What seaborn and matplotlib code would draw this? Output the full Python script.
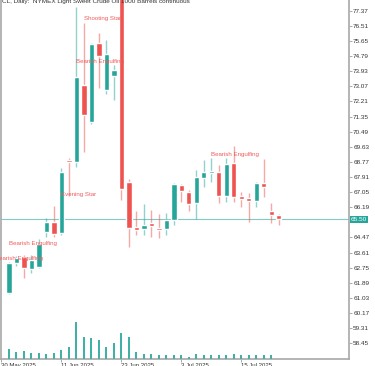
import numpy as np
import pandas as pd
import matplotlib
matplotlib.use('Agg')
import matplotlib.pyplot as plt
import seaborn as sns

sns.set_style('white')
plt.rcParams['font.family'] = ['Liberation Sans', 'DejaVu Sans']

# trading days, 30 May 2025 .. 22 Jul 2025 (first bar sits under the left edge)
days = pd.bdate_range('2025-05-30', periods=38)

opens = [61.31, 63.02, 63.36, 62.67, 62.79, 64.78, 65.35, 64.72, 68.88, 68.76,
         73.14, 71.04, 75.53, 72.86, 73.65, 78.40, 67.63, 65.07, 64.95, 65.29,
         65.01, 64.95, 65.46, 67.45, 67.06, 66.43, 67.85, 68.14, 68.19, 66.83,
         68.71, 66.83, 66.71, 66.54, 67.57, 65.98, 65.75]
highs = [63.07, 63.41, 63.47, 63.47, 64.38, 65.58, 66.26, 68.42, 68.99, 77.58,
         76.67, 75.53, 76.10, 75.70, 74.28, 78.60, 67.80, 65.98, 66.37, 66.03,
         65.80, 65.86, 67.57, 67.51, 67.17, 68.31, 68.88, 68.99, 68.59, 68.99,
         69.67, 67.06, 67.00, 67.63, 68.93, 66.43, 65.80]
lows = [61.25, 62.85, 62.16, 62.45, 62.73, 64.50, 64.50, 64.61, 66.85, 68.48,
        69.33, 70.92, 72.97, 72.63, 72.29, 66.60, 63.93, 64.61, 64.61, 64.50,
        64.44, 64.61, 65.18, 66.49, 65.98, 65.52, 67.34, 67.63, 66.43, 66.49,
        66.49, 66.20, 65.35, 66.20, 66.77, 65.29, 65.18]
closes = [63.02, 63.30, 62.73, 63.19, 64.10, 65.35, 64.67, 68.19, 68.76, 73.60,
          71.44, 75.47, 74.79, 74.91, 73.99, 67.23, 65.01, 64.89, 65.18, 65.12,
          64.89, 65.46, 67.51, 67.11, 66.37, 67.91, 68.19, 68.25, 66.83, 68.65,
          66.77, 66.66, 66.54, 67.57, 67.34, 65.75, 65.52]
volumes = [100, 73, 80, 60, 60, 57, 63, 90, 120, 370, 220, 210, 197, 120, 163,
           263, 220, 70, 50, 50, 43, 40, 43, 43, 23, 50, 40, 43, 43, 43, 50, 43,
           43, 40, 43, 43, 5]

last_price = 65.50
price_ticks = [round(77.37 - 0.86 * k, 2) for k in range(23)]
date_tick_pos = [0, 8, 16, 24, 32]

# pattern labels: (bar position, price, text)
pattern_labels = [(-0.87, 63.30, 'Bearish Engulfing'),
                  (1.0, 64.15, 'Bearish Engulfing'),
                  (8.0, 66.94, 'Evening Star'),
                  (10.0, 74.47, 'Bearish Engulfing'),
                  (11.0, 76.94, 'Shooting Star'),
                  (28.0, 69.17, 'Bearish Engulfing')]

df = pd.DataFrame({'date': days[1:], 'pos': np.arange(1, 38),
                   'open': opens, 'high': highs, 'low': lows,
                   'close': closes, 'volume': volumes})
df['up'] = df['close'] >= df['open']

GREEN = '#26a69a'
RED = '#ef5350'

fig = plt.figure(figsize=(3.75, 3.66), dpi=100)
ax = fig.add_axes([0.0015, 0.0183, 0.9292, 0.9817])

# volume histogram along the bottom (twin axes, no scale shown)
ax2 = ax.twinx()
sns.barplot(data=df, x='pos', y='volume', native_scale=True, color='#3fb1a5',
            saturation=1, width=0.27, errorbar=None, linewidth=0, ax=ax2)
ax2.set_ylim(0, 3593)
ax2.set_yticks([])
ax2.set_xlabel('')
ax2.set_ylabel('')
for s in ax2.spines.values():
    s.set_visible(False)

ax.axhline(last_price, color='#80cbc4', lw=0.8, zorder=0.5)

for up, col in [(True, GREEN), (False, RED)]:
    d = df[df['up'] == up]
    ax.vlines(d['pos'], d['low'], d['high'], color=col, lw=1.0, alpha=0.5, zorder=2)
    ax.bar(d['pos'], (d['close'] - d['open']).abs().clip(lower=0.08),
           bottom=d[['open', 'close']].min(axis=1), width=0.72,
           color=col, zorder=3)

for x, y, txt in pattern_labels:
    ax.text(x, y, txt, fontsize=4.4, color='#f05a5a', ha='left', va='center',
            zorder=5)

ax.set_xlim(-0.107, 46.37)
ax.set_ylim(57.54, 77.977)

# the tick under the current-price box keeps its mark but not its label
ax.yaxis.tick_right()
ax.set_yticks(price_ticks)
ax.set_yticklabels(['' if abs(v - last_price) < 0.3 else f'{v:.2f}'
                    for v in price_ticks])
ax.tick_params(axis='y', right=True, left=False, labelright=True, labelleft=False,
               length=2, width=0.6, pad=1,
               labelsize=4.6, colors='#9e9e9e', labelcolor='#333333')

ax.set_xticks(date_tick_pos)
ax.set_xticklabels([days[i].strftime('%-d %b %Y') for i in date_tick_pos],
                   ha='left')
ax.tick_params(axis='x', bottom=True, length=2, width=0.6, pad=0.5,
               labelsize=4.3, colors='#9e9e9e', labelcolor='#333333')

for s in ['left', 'right', 'bottom']:
    ax.spines[s].set_color('#a8a8a8')
    ax.spines[s].set_linewidth(1.2)
ax.spines['top'].set_visible(False)

ax.text(1.006, last_price, f'{last_price:.2f}', transform=ax.get_yaxis_transform(),
        fontsize=4.6, color='white', ha='left', va='center', zorder=10,
        clip_on=False,
        bbox=dict(boxstyle='square,pad=0.15', fc=GREEN, ec='none'))

fig.text(0.005, 1 - 1.5 / 366,
         'CL, Daily:  NYMEX Light Sweet Crude Oil 1000 Barrels continuous',
         fontsize=4.6, color='#333333', ha='left', va='center')

fig.savefig('out.png', dpi=100)
